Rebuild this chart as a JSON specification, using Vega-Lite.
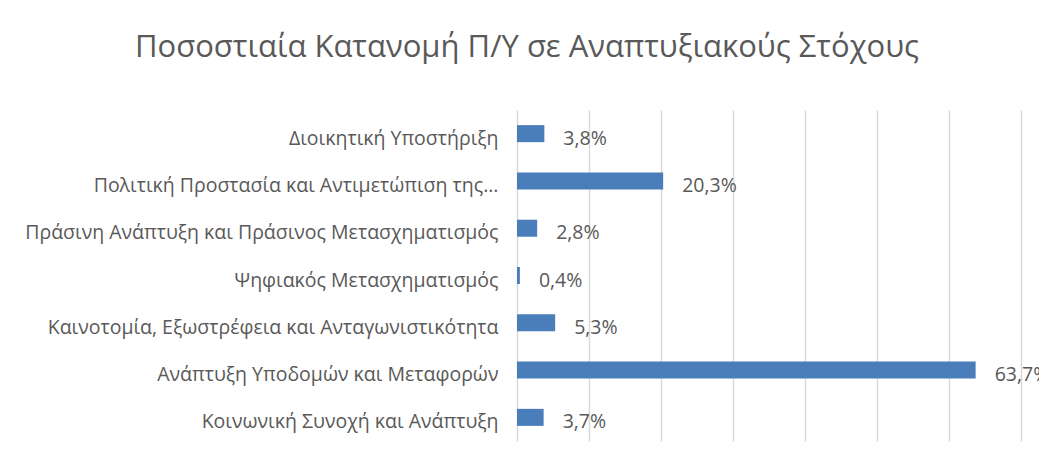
{
  "$schema": "https://vega.github.io/schema/vega-lite/v6.json",
  "autosize": "none",
  "width": 504,
  "height": 331,
  "padding": {"left": 517, "top": 110, "right": 18, "bottom": 20},
  "background": "white",
  "title": {
    "text": "Ποσοστιαία Κατανομή Π/Υ σε Αναπτυξιακούς Στόχους",
    "font": "Open Sans",
    "fontSize": 31,
    "fontWeight": "normal",
    "color": "#595959",
    "anchor": "middle",
    "baseline": "alphabetic",
    "dx": -242,
    "offset": 22
  },
  "config": {
    "view": {"stroke": null},
    "locale": {"number": {"decimal": ",", "thousands": ".", "grouping": [3], "currency": ["", " €"]}}
  },
  "data": {
    "values": [
      {"goal": "Διοικητική Υποστήριξη", "share": 0.038},
      {"goal": "Πολιτική Προστασία και Αντιμετώπιση της...", "share": 0.203},
      {"goal": "Πράσινη Ανάπτυξη και Πράσινος Μετασχηματισμός", "share": 0.028},
      {"goal": "Ψηφιακός Μετασχηματισμός", "share": 0.004},
      {"goal": "Καινοτομία, Εξωστρέφεια και Ανταγωνιστικότητα", "share": 0.053},
      {"goal": "Ανάπτυξη Υποδομών και Μεταφορών", "share": 0.637},
      {"goal": "Κοινωνική Συνοχή και Ανάπτυξη", "share": 0.037}
    ]
  },
  "encoding": {
    "y": {
      "field": "goal",
      "type": "nominal",
      "sort": null,
      "scale": {"paddingInner": 0.64, "paddingOuter": 0.32},
      "axis": {
        "title": null,
        "domain": false,
        "ticks": false,
        "labelFont": "Open Sans",
        "labelFontSize": 19.5,
        "labelColor": "#595959",
        "labelPadding": 19,
        "labelLimit": 520,
        "labelOffset": 5
      }
    },
    "x": {
      "field": "share",
      "type": "quantitative",
      "scale": {"domain": [0, 0.7], "nice": false},
      "axis": {
        "title": null,
        "labels": false,
        "ticks": false,
        "domain": false,
        "values": [0, 0.1, 0.2, 0.3, 0.4, 0.5, 0.6, 0.7],
        "grid": true,
        "gridColor": "#d9d9d9",
        "gridWidth": 1.5
      }
    }
  },
  "layer": [
    {"mark": {"type": "bar", "color": "#4a7ebb"}},
    {
      "mark": {"type": "text", "align": "left", "baseline": "middle", "dx": 19, "dy": 5, "font": "Open Sans", "fontSize": 19.5, "color": "#595959", "clip": false},
      "encoding": {"text": {"field": "share", "type": "quantitative", "format": ".1%"}}
    }
  ]
}
